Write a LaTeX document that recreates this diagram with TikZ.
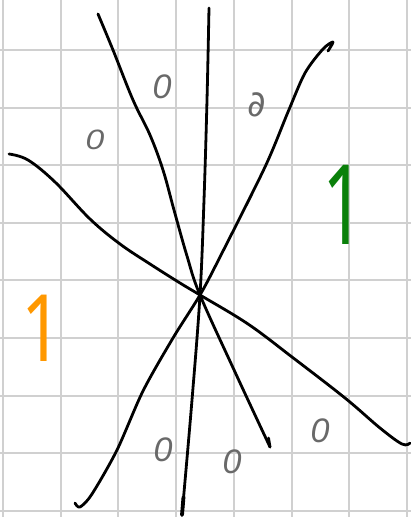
\documentclass[tikz,border=0pt]{standalone}
\usepackage{fontspec}
\newfontfamily\hand{Liberation Sans}
\newfontfamily\handone{Noto Sans}
\newfontfamily\handsym{DejaVu Sans}
\definecolor{gridgray}{RGB}{208,208,208}
\definecolor{inkgray}{RGB}{105,105,105}
\definecolor{inkgreen}{RGB}{10,128,10}
\definecolor{inkorange}{RGB}{255,152,0}
\begin{document}
\begin{tikzpicture}[x=1pt,y=-1pt,
  gridline/.style={draw=gridgray,line width=2pt},
  pen/.style={draw=black,line width=2.8pt,line cap=round,line join=round},
  zero/.style={text=inkgray,font=\hand\itshape\fontsize{34}{34}\selectfont,inner sep=0pt},
  smallzero/.style={text=inkgray,font=\hand\itshape\fontsize{28}{28}\selectfont,inner sep=0pt,xscale=1.2},
  partial/.style={text=inkgray,font=\handsym\fontsize{36}{36}\selectfont,inner sep=0pt},
  one/.style={inner sep=0pt,font=\handone\fontsize{60}{60}\selectfont}]
\useasboundingbox (0,0) rectangle (411,517);
\fill[white] (0,0) rectangle (411,517);
\foreach \i in {0,...,7} \draw[gridline] ({3+57.7*\i},0) -- ({3+57.7*\i},517);
\foreach \j in {0,...,8} \draw[gridline] (0,{50+57.6*\j}) -- (411,{50+57.6*\j});
\coordinate (c) at (200,295);
% stroke from left to bottom right
\draw[pen] plot[smooth,tension=0.6] coordinates {(9,154) (28,160) (55,182) (90,219) (120,244) (150,264) (180,283) (c) (248,324) (292,357) (345,398) (380,428) (402,444) (410,443)};
% stroke from top-left to lower right
\draw[pen] plot[smooth,tension=0.6] coordinates {(98,14) (113,50) (133,100) (150,135) (163,170) (174,210) (187,256) (c) (235,372) (270,447)};
\coordinate (btip) at (270,447);
\draw[pen] (btip) -- ++(-1.5,-9);
% near-vertical stroke
\draw[pen] plot[smooth,tension=0.6] coordinates {(209,8) (207,100) (204,200) (c) (192,400) (182,515)};
\draw[pen,line width=3.8pt] (183.5,497) -- (182,515);
% stroke from top right to bottom left
\draw[pen] plot[smooth,tension=0.5] coordinates {(328,51) (333,42) (323,49) (305,73) (288,112) (265,167) (220,257) (c) (173,338) (143,391) (117,450) (92,494) (80,507) (75,503)};
% labels
\node[zero] (z1) at (162,87) {0};
\node[smallzero] (z2) at (95,140) {0};
\node[partial] (z3) at (257,105) {∂};
\node[zero] (z4) at (320,431) {0};
\node[zero] (z5) at (163,450) {0};
\node[zero] (z6) at (232,462) {0};
\node[one,text=inkgreen,xscale=1.25,yscale=1.85] (g1) at (344,205) {1};
\node[one,text=inkorange,xscale=1.2,yscale=1.55] (o1) at (42,328) {1};
\end{tikzpicture}
\end{document}
